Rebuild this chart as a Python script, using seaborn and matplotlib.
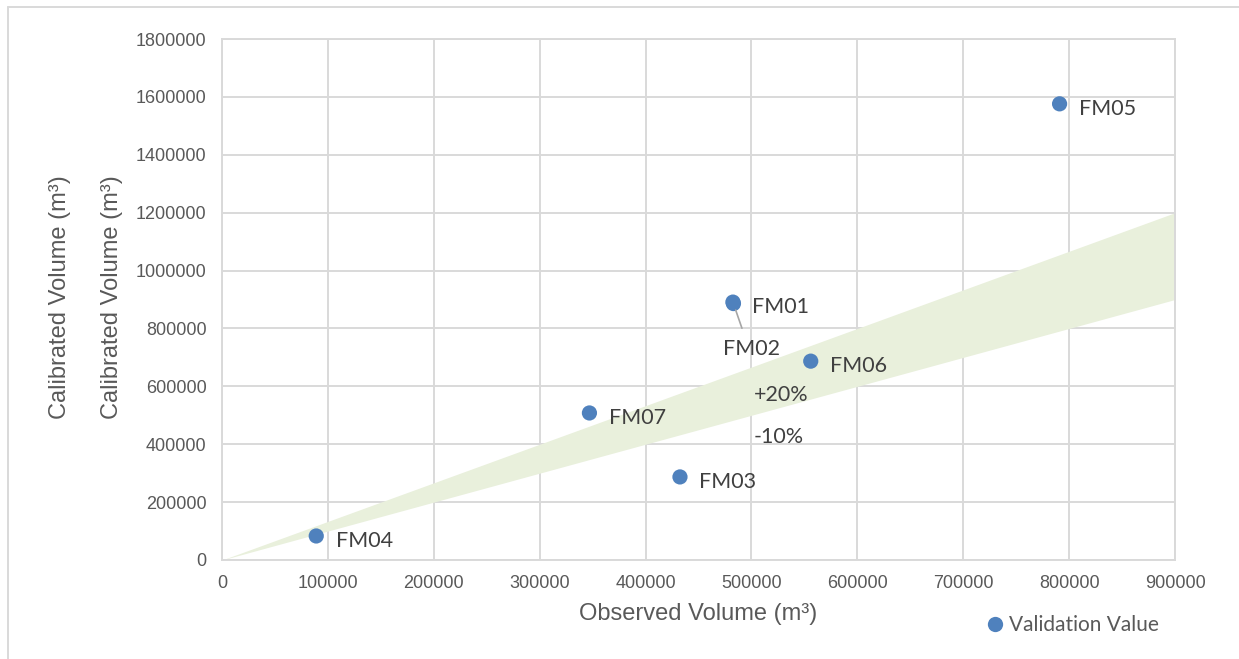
import numpy as np
import pandas as pd
import matplotlib.pyplot as plt
import seaborn as sns
from matplotlib.lines import Line2D

# Valores
sites = ["FM01", "FM02", "FM03", "FM04", "FM05", "FM06", "FM07"]
observed = [482500, 483000, 432500, 89000, 791000, 556000, 347000]
calibrated = [891000, 886000, 287000, 83000, 1576000, 687000, 508000]

band_x = [0, 900000]
band_upper = [0, 1200000]
band_lower = [0, 900000]

x_ticks = list(range(0, 900001, 100000))
y_ticks = list(range(0, 1800001, 200000))

df = pd.DataFrame({"site": sites, "observed": observed, "calibrated": calibrated,
                   "serie": "Validation Value"})

sns.set_theme(style="white")
plt.rcParams['font.family'] = ['Liberation Sans', 'DejaVu Sans']

grey_txt = "#595959"
grid_col = "#d9d9d9"
dot_col = "#4f81bd"
band_col = "#e9f0dc"

fig = plt.figure(figsize=(12.39, 6.59), dpi=100)
ax = fig.add_axes([222 / 1239, 1 - 560 / 659, (1175 - 222) / 1239, (560 - 39) / 659])

ax.fill_between(band_x, band_lower, band_upper, color=band_col, linewidth=0, zorder=1)

sns.scatterplot(data=df, x="observed", y="calibrated", hue="serie", palette=[dot_col],
                s=120, edgecolor="none", ax=ax, zorder=3, legend=False)

ax.set_xlim(0, 900000)
ax.set_ylim(0, 1800000)
ax.set_xticks(x_ticks)
ax.set_yticks(y_ticks)
ax.set_xticklabels([str(v) for v in x_ticks])
ax.set_yticklabels([str(v) for v in y_ticks])
ax.tick_params(axis="both", labelsize=13, colors=grey_txt, length=0)
ax.tick_params(axis="y", pad=11)
ax.tick_params(axis="x", pad=11)
ax.grid(True, color=grid_col, linewidth=1.4, zorder=0)
ax.set_axisbelow(True)
for sp in ax.spines.values():
    sp.set_color(grid_col)
    sp.set_linewidth(1.4)
ax.set_xlabel("")
ax.set_ylabel("")

lab_font = ['Lato', 'DejaVu Sans']
for name, xo, yo in zip(sites, observed, calibrated):
    if name == "FM02":
        ax.annotate(name, (xo, yo), xytext=(13, -33), textcoords="offset points",
                    fontsize=15.5, color="#404040", family=lab_font, ha="center", va="center",
                    arrowprops=dict(arrowstyle="-", color="#a6a6a6", lw=1.2,
                                    shrinkA=6, shrinkB=5, relpos=(0.4, 1.0)))
    else:
        ax.annotate(name, (xo, yo), xytext=(14, -3.5), textcoords="offset points",
                    fontsize=15.5, color="#404040", family=lab_font, ha="left", va="center")

ax.text(528000, 570000, "+20%", fontsize=15.5, color="#404040", family=lab_font,
        ha="center", va="center")
ax.text(526000, 425000, "-10%", fontsize=15.5, color="#404040", family=lab_font,
        ha="center", va="center")

fig.text(698 / 1239, 1 - 614 / 659, "Observed Volume (m³)", fontsize=17, color=grey_txt,
         ha="center", va="center")
for xp in (60, 112):
    fig.text(xp / 1239, 1 - 297 / 659, "Calibrated Volume (m³)", fontsize=17, color=grey_txt,
             ha="center", va="center", rotation=90)

# leyenda fuera del área
legend_handle = Line2D([], [], marker="o", linestyle="", markersize=11,
                       markerfacecolor=dot_col, markeredgecolor="none")
fig.legend([legend_handle], ["Validation Value"], loc="center left",
           bbox_to_anchor=(964 / 1239, 1 - 625 / 659), frameon=False,
           handletextpad=0.05, handlelength=1.2,
           prop={"family": lab_font, "size": 15}, labelcolor="#595959")

# marco exterior
fig.add_artist(Line2D([8 / 1239, 1], [1 - 7 / 659, 1 - 7 / 659], transform=fig.transFigure,
                      color=grid_col, lw=1.4))
fig.add_artist(Line2D([8 / 1239, 8 / 1239], [0, 1 - 7 / 659], transform=fig.transFigure,
                      color=grid_col, lw=1.4))

fig.savefig("out.png", dpi=100)
